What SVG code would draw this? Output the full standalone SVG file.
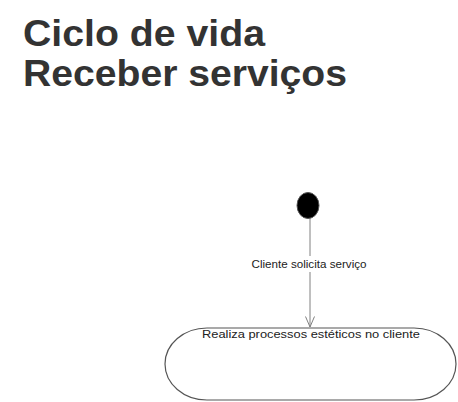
<svg xmlns="http://www.w3.org/2000/svg" width="458" height="402" viewBox="0 0 458 402">
<style>
.title{font-family:"Liberation Sans",Arial,sans-serif;font-weight:bold;font-size:37px;fill:#333333}
.lbl{font-family:"Liberation Sans",Arial,sans-serif;font-size:11px;fill:#222222}
.edge{stroke:#808080;stroke-width:1;fill:none}
</style>
<rect width="458" height="402" fill="#ffffff"/>
<text class="title" x="23" y="46" textLength="242" lengthAdjust="spacingAndGlyphs">Ciclo de vida</text>
<text class="title" x="23" y="86" textLength="324" lengthAdjust="spacingAndGlyphs">Receber serviços</text>
<g id="connectors">
<path class="edge" d="M310,218 L310,327"/>
<path class="edge" d="M305.5,316.5 L310,327 L314.5,316.5"/>
<rect x="250" y="256" width="118" height="16" fill="#ffffff"/>
<text class="lbl" x="309" y="268" text-anchor="middle" textLength="115" lengthAdjust="spacingAndGlyphs">Cliente solicita serviço</text>
</g>
<g id="start">
<ellipse cx="308" cy="205.5" rx="11" ry="13" fill="#000000" stroke="#555555" stroke-width="1"/>
</g>
<g id="state">
<rect x="165" y="328" width="291" height="72" rx="42" ry="36" fill="#ffffff" stroke="#555555" stroke-width="1.2"/>
<text class="lbl" x="311" y="338" text-anchor="middle" textLength="218" lengthAdjust="spacingAndGlyphs">Realiza processos estéticos no cliente</text>
</g>
</svg>
